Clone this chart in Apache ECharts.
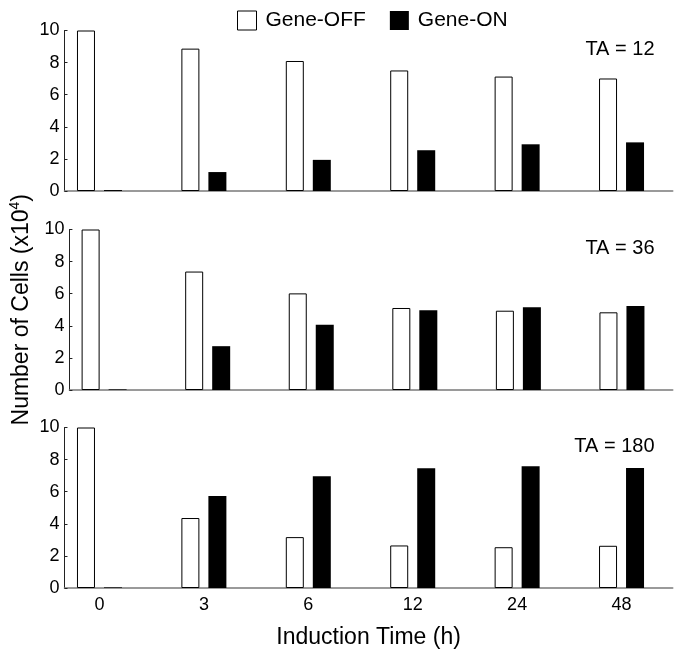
<!DOCTYPE html>
<html>
<head>
<meta charset="utf-8">
<script src="https://cdn.jsdelivr.net/npm/echarts@6/dist/echarts.min.js"></script>
<style>
html,body{margin:0;padding:0;background:#fff;}
#chart{width:685px;height:661px;}
</style>
</head>
<body>
<div id="chart"></div>
<script>
const categories = ['0', '3', '6', '12', '24', '48'];
const seriesNames = ['Gene-OFF', 'Gene-ON'];
const panelLabels = ['TA = 12', 'TA = 36', 'TA = 180'];
const yTicks = [0, 2, 4, 6, 8, 10];

const offTA12 = [10, 8.87, 8.10, 7.51, 7.13, 7.01];
const onTA12 = [0.06, 1.18, 1.94, 2.54, 2.91, 3.03];
const offTA36 = [10, 7.38, 6.02, 5.11, 4.94, 4.84];
const onTA36 = [0.04, 2.73, 4.06, 4.97, 5.15, 5.23];
const offTA180 = [10, 4.36, 3.17, 2.65, 2.54, 2.63];
const onTA180 = [0.04, 5.73, 6.96, 7.46, 7.58, 7.48];

const panels = [[offTA12, onTA12], [offTA36, onTA36], [offTA180, onTA180]];

const FONT = '"Liberation Sans", Arial, sans-serif';
const gridTops = [30.5, 229.5, 427.5];
const gridH = 160.5;

function pairs(vals) { return vals.map((v, i) => [i, v]); }

const grids = gridTops.map(t => ({ left: 64.5, right: 12.3, top: t, height: gridH }));

const xAxes = gridTops.map((t, gi) => ({
  type: 'value', gridIndex: gi, min: -0.335, max: 5.49,
  axisLine: { show: true, onZero: true, lineStyle: { color: '#7a7a7a', width: 1.6 } },
  axisTick: { show: false },
  splitLine: { show: false },
  axisLabel: gi === 2 ? {
    show: true, customValues: categories.map((_, i) => i),
    formatter: v => categories[Math.round(v)],
    color: '#000', fontSize: 18, fontFamily: FONT, margin: 8
  } : { show: false },
  name: gi === 2 ? 'Induction Time (h)' : '',
  nameLocation: 'middle', nameGap: 38,
  nameTextStyle: { color: '#000', fontSize: 23, fontFamily: FONT }
}));

const yAxes = gridTops.map((t, gi) => ({
  type: 'value', gridIndex: gi, min: 0, max: 10, interval: 2,
  axisLine: { show: true, onZero: false, lineStyle: { color: '#222', width: 1 } },
  axisTick: { show: true, inside: true, length: 3, lineStyle: { color: '#222' } },
  splitLine: { show: false },
  axisLabel: { color: '#000', fontSize: 18, fontFamily: FONT, margin: 5 },
  name: gi === 1 ? '{n|Number of Cells (x10}{s|4}{n|)}' : '',
  nameLocation: 'middle', nameRotate: 90, nameGap: 31,
  nameTextStyle: {
    color: '#000', fontSize: 23, fontFamily: FONT,
    rich: {
      n: { fontSize: 23, lineHeight: 28, fontFamily: FONT, color: '#000' },
      s: { fontSize: 14, lineHeight: 14, fontFamily: FONT, color: '#000', verticalAlign: 'top' }
    }
  }
}));

const series = [];
panels.forEach((p, gi) => {
  series.push({
    name: seriesNames[0], type: 'bar', xAxisIndex: gi, yAxisIndex: gi,
    data: pairs(p[0]), barWidth: 18, barGap: '50%',
    itemStyle: { color: '#fff', borderColor: '#000', borderWidth: 1 },
    emphasis: { disabled: true }, animation: false
  });
  series.push({
    name: seriesNames[1], type: 'bar', xAxisIndex: gi, yAxisIndex: gi,
    data: pairs(p[1]), barWidth: 18, barGap: '50%',
    itemStyle: { color: '#000', borderColor: '#000', borderWidth: 0 },
    emphasis: { disabled: true }, animation: false
  });
});

const labelY = [49.3, 248.3, 446.7];
const graphic = panelLabels.map((txt, i) => ({
  type: 'text', x: 654.5, y: labelY[i],
  style: { text: txt, align: 'right', verticalAlign: 'middle', fill: '#000', font: '20px ' + FONT }
}));

const chart = echarts.init(document.getElementById('chart'), null, { renderer: 'canvas' });
chart.setOption({
  animation: false,
  backgroundColor: '#fff',
  legend: {
    left: 237, top: 10, padding: 0, itemGap: 24, itemWidth: 19, itemHeight: 19, icon: 'rect',
    data: [
      { name: seriesNames[0], itemStyle: { color: '#fff', borderColor: '#000', borderWidth: 1 } },
      { name: seriesNames[1], itemStyle: { color: '#000', borderWidth: 0 } }
    ],
    textStyle: { color: '#000', fontSize: 21, fontFamily: FONT, padding: [0, 0, 0, 4] },
    selectedMode: false
  },
  grid: grids,
  xAxis: xAxes,
  yAxis: yAxes,
  series: series,
  graphic: graphic
});
</script>
</body>
</html>
